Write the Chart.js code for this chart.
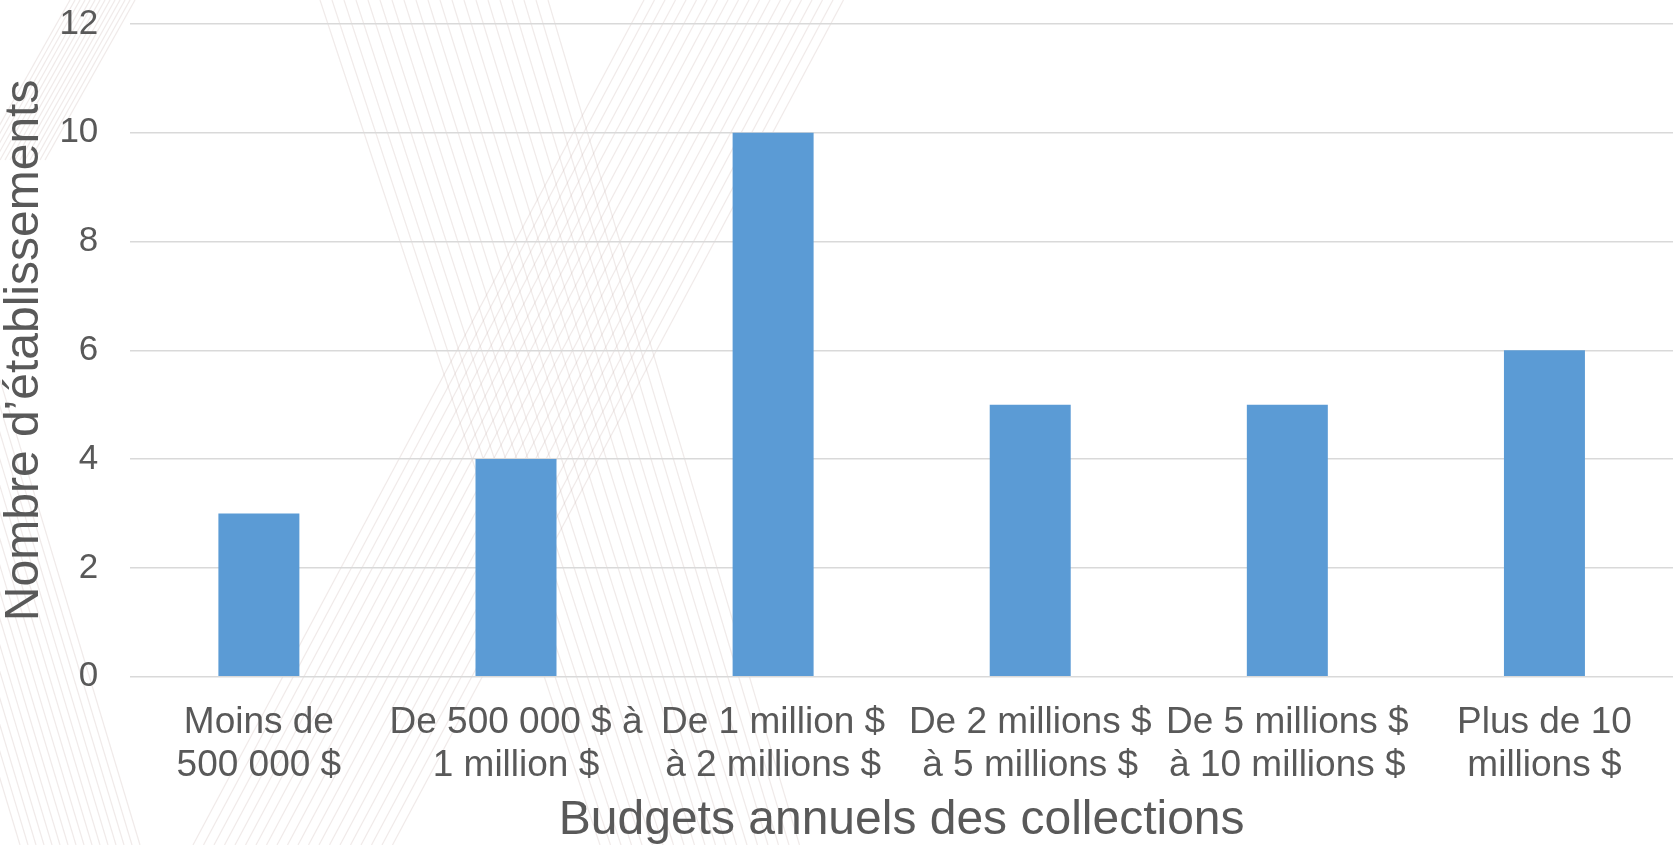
<!DOCTYPE html>
<html>
<head>
<meta charset="utf-8">
<script src="https://cdn.jsdelivr.net/npm/chart.js@4"></script>
<style>
  html, body { margin: 0; padding: 0; background: #ffffff; }
  #wrap { width: 1673px; height: 845px; }
</style>
</head>
<body>
<div id="wrap"><canvas id="budgetChart" width="1673" height="845"></canvas></div>
<script>
var categories = [
    ["Moins de", "500 000 $"],
    ["De 500 000 $ à", "1 million $"],
    ["De 1 million $", "à 2 millions $"],
    ["De 2 millions $", "à 5 millions $"],
    ["De 5 millions $", "à 10 millions $"],
    ["Plus de 10", "millions $"]
];
var establishments = [3, 4, 10, 5, 5, 6];

var yTitle = "Nombre d\u2019établissements";
var xTitle = "Budgets annuels des collections";

var textColor = "#595959";
var fontFamily = "'Liberation Sans', Arial, sans-serif";

// faint hatched "X" decoration behind the chart
var backdrop = {
    id: "backdrop",
    beforeDraw: function(chart) {
        var ctx = chart.ctx;
        var w = chart.width, h = chart.height;
        ctx.save();
        ctx.fillStyle = "#ffffff";
        ctx.fillRect(0, 0, w, h);
        ctx.strokeStyle = "rgba(200, 180, 175, 0.28)";
        ctx.lineWidth = 1.2;
        function bundle(x0, y0, dx0, x1, y1, dx1, n) {
            for (let i = 0; i < n; i++) {
                ctx.beginPath();
                ctx.moveTo(x0 + i * dx0, y0);
                ctx.lineTo(x1 + i * dx1, y1);
                ctx.stroke();
            }
        }
        bundle(320, 0, 12, 600, h, 10.5, 20);
        bundle(644, 0, 10.5, 193, h, 10.5, 20);
        bundle(-120, 380, 8, 20, h, 8, 16);
        bundle(70, 0, 5, -20, 160, 5, 14);
        ctx.restore();
    }
};

var chart = new Chart(document.getElementById("budgetChart"), {
    type: "bar",
    data: {
        labels: categories,
        datasets: [
            {
                label: "Établissements",
                data: establishments,
                backgroundColor: "#5b9bd5",
                borderWidth: 0,
                categoryPercentage: 1.0,
                barPercentage: 0.315
            }
        ]
    },
    options: {
        responsive: false,
        animation: false,
        layout: {
            padding: { top: 24, right: 0, bottom: 0, left: 0 }
        },
        plugins: {
            legend: { display: false },
            tooltip: { enabled: false }
        },
        scales: {
            x: {
                grid: { display: false, drawTicks: true, tickLength: 24 },
                border: { display: false },
                ticks: {
                    color: textColor,
                    padding: 0,
                    maxRotation: 0,
                    autoSkip: false,
                    font: { family: fontFamily, size: 37, lineHeight: 1.18 }
                },
                title: {
                    display: true,
                    text: xTitle,
                    color: textColor,
                    padding: { top: 9, bottom: 0 },
                    font: { family: fontFamily, size: 48, lineHeight: 1.0 }
                }
            },
            y: {
                min: 0,
                max: 12,
                grid: {
                    color: "#d9d9d9",
                    lineWidth: 1.5,
                    drawTicks: true,
                    tickLength: 32,
                    tickColor: "rgba(0,0,0,0)"
                },
                border: { display: false },
                ticks: {
                    stepSize: 2,
                    color: textColor,
                    padding: 0,
                    font: { family: fontFamily, size: 35, lineHeight: 1.2 }
                },
                title: {
                    display: true,
                    text: yTitle,
                    color: textColor,
                    padding: { top: 0, bottom: 9 },
                    font: { family: fontFamily, size: 48, lineHeight: 1.05 }
                }
            }
        }
    },
    plugins: [backdrop]
});
</script>
</body>
</html>
